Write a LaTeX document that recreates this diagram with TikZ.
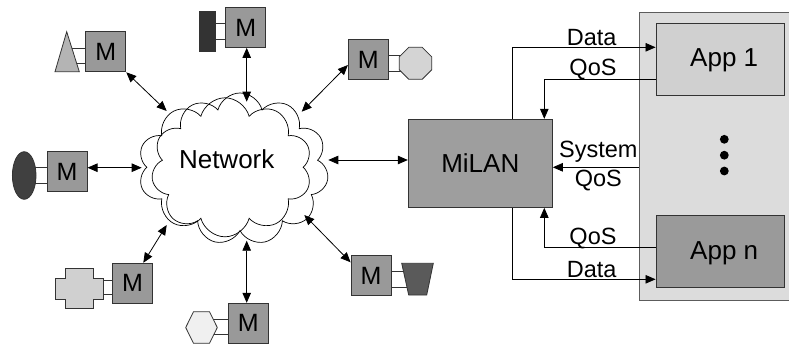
\documentclass[tikz,border=0pt]{standalone}
\usepackage{fontspec}
\setmainfont{Liberation Sans}
\usetikzlibrary{arrows.meta,shapes.symbols,shapes.geometric,calc}

\definecolor{edge}{HTML}{333333}
\definecolor{mgray}{HTML}{999999}
\definecolor{panelgray}{HTML}{DCDCDC}
\definecolor{appone}{HTML}{D0D0D0}
\definecolor{appn}{HTML}{9A9A9A}
\definecolor{trifill}{HTML}{B4B4B4}
\definecolor{barfill}{HTML}{333333}
\definecolor{octfill}{HTML}{D4D4D4}
\definecolor{ellfill}{HTML}{404040}
\definecolor{crossfill}{HTML}{D0D0D0}
\definecolor{hexfill}{HTML}{F0F0F0}
\definecolor{trapfill}{HTML}{5A5A5A}

\tikzset{
  mbox/.style={draw=edge, line width=1pt, fill=mgray, minimum width=40pt,
    minimum height=40pt, inner sep=0pt, font=\fontsize{25}{28}\selectfont},
  bigbox/.style={draw=edge, line width=1pt, inner sep=0pt},
  bigtext/.style={inner sep=0pt, font=\fontsize{26}{30}\selectfont},
  lbl/.style={anchor=base, inner sep=0pt, font=\fontsize{23.5}{26}\selectfont},
  link/.style={draw=edge, line width=0.7pt},
  dev/.style={draw=edge, line width=0.8pt},
  tip/.tip={Triangle[length=10pt,width=8.5pt]},
  conn/.style={line width=0.8pt, tip-tip},
  flow/.style={line width=0.8pt, -tip},
  netcloud/.style={cloud, cloud ignores aspect, draw=black,
    line width=0.7pt, inner sep=0pt},
}

\begin{document}
\begin{tikzpicture}[x=1pt,y=-1pt]
\useasboundingbox (0,0) rectangle (789,346);

% ---------- network cloud ----------
\node[netcloud, cloud puffs=10, minimum width=174pt, minimum height=139pt] (cloudA) at (225,167.3) {};
\node[netcloud, cloud puffs=11, minimum width=177pt, minimum height=152pt] (cloudB) at (240,169) {};
\node[bigtext, anchor=base] (nettext) at (226.7,168.3) {Network};

% ---------- monitor boxes ----------
\node[mbox] (m1) at (105.8,51.8) {M};
\node[mbox] (m2) at (245.9,27.4) {M};
\node[mbox] (m3) at (368.4,59.5) {M};
\node[mbox] (m4) at (67,171.6) {M};
\node[mbox] (m5) at (132.6,283.3) {M};
\node[mbox] (m6) at (248.3,323.3) {M};
\node[mbox] (m7) at (371.1,275.5) {M};

% ---------- device links (drawn first, devices cover their ends) ----------
\coordinate (l1a) at (67,48);    \coordinate (l1b) at (67,63);
\coordinate (l2a) at (207,23.5); \coordinate (l2b) at (207,39.5);
\coordinate (l3a) at (415,55);   \coordinate (l3b) at (415,71.7);
\coordinate (l4a) at (24,167.7); \coordinate (l4b) at (24,183.3);
\coordinate (l5a) at (79,280);   \coordinate (l5b) at (79,294.3);
\coordinate (l6a) at (201,319.3);\coordinate (l6b) at (201,334.3);
\coordinate (l7a) at (417,271.7);\coordinate (l7b) at (417,287.7);
\draw[link] (l1a) -- (l1a -| m1.west) (l1b) -- (l1b -| m1.west);
\draw[link] (l2a) -- (l2a -| m2.west) (l2b) -- (l2b -| m2.west);
\draw[link] (l3a) -- (l3a -| m3.east) (l3b) -- (l3b -| m3.east);
\draw[link] (l4a) -- (l4a -| m4.west) (l4b) -- (l4b -| m4.west);
\draw[link] (l5a) -- (l5a -| m5.west) (l5b) -- (l5b -| m5.west);
\draw[link] (l6a) -- (l6a -| m6.west) (l6b) -- (l6b -| m6.west);
\draw[link] (l7a) -- (l7a -| m7.east) (l7b) -- (l7b -| m7.east);

% ---------- devices ----------
\draw[dev, fill=trifill] (55,71.7) -- (66.7,31.7) -- (79.3,71.7) -- cycle;
\draw[dev, fill=barfill] (199,11.5) rectangle (215.7,51.7);
\draw[dev, fill=octfill] (408.8,47.3) -- (422.2,47.3) -- (431.7,56.8) -- (431.7,69.8)
  -- (422.2,79.3) -- (408.8,79.3) -- (399.3,69.8) -- (399.3,56.8) -- cycle;
\draw[dev, fill=ellfill] (24.2,175.5) ellipse [x radius=11.8, y radius=23.8];
\draw[dev, fill=crossfill] (65,268.3) -- (93.3,268.3) -- (93.3,278.3) -- (103.3,278.3)
  -- (103.3,299.3) -- (93.3,299.3) -- (93.3,308.3) -- (65,308.3) -- (65,299.3)
  -- (55,299.3) -- (55,278.3) -- (65,278.3) -- cycle;
\draw[dev, fill=hexfill] (185.7,327.5) -- (193.5,311.7) -- (209.5,311.7) -- (217.3,327.5)
  -- (209.5,343.3) -- (193.5,343.3) -- cycle;
\draw[dev, fill=trapfill] (401.7,263.3) -- (433.3,263.3) -- (426.7,295) -- (408.7,295) -- cycle;

% ---------- monitor <-> network ----------
\coordinate (e1) at (166.7,111);
\coordinate (e2) at (246.7,101.7);
\coordinate (e3) at (301.7,111.7);  \coordinate (a3) at (340,65);
\coordinate (e4) at (141.7,167.7);
\coordinate (e5) at (166.7,225);    \coordinate (a5) at (143.3,250);
\coordinate (e6) at (246.7,240.7);
\coordinate (e7) at (304.3,215);    \coordinate (a7) at (340,262.3);
\coordinate (e8) at (328.3,160);
\draw[conn] (m1.south east) -- (e1);
\draw[conn] (e2 |- m2.south) -- (e2);
\draw[conn] (a3 -| m3.west) -- (e3);
\draw[conn] (e4 -| m4.east) -- (e4);
\draw[conn] (a5 |- m5.north) -- (e5);
\draw[conn] (e6 |- m6.north) -- (e6);
\draw[conn] (a7 -| m7.west) -- (e7);

% ---------- MiLAN and applications ----------
\node[bigbox, fill=mgray!95!white, minimum width=144pt, minimum height=88pt,
  font=\fontsize{26}{30}\selectfont] (milan) at (480.3,163.3) {MiLAN};
\draw[conn] (e8) -- (e8 -| milan.west);

\node[draw=edge!80!white, line width=1pt, fill=panelgray, minimum width=160pt,
  minimum height=288pt, inner sep=0pt] (panel) at (719.3,156.7) {};
\node[bigbox, fill=appone, minimum width=128.3pt, minimum height=72.4pt] (app1) at (720.2,59.5) {};
\node[bigbox, fill=appn, minimum width=128.3pt, minimum height=72.2pt] (appN) at (720.2,251.4) {};
\node[bigtext, anchor=base] (app1t) at (724.2,66.5) {App 1};
\node[bigtext, anchor=base] (appNt) at (724.2,259.3) {App n};
\fill (724.3,139.3) circle [radius=4.4];
\fill (724.3,155.2) circle [radius=4.4];
\fill (724.3,171) circle [radius=4.4];

% ---------- data / QoS flows ----------
\coordinate (dtop) at (512.3,47.3);
\coordinate (qtop) at (544.3,79.3);
\coordinate (sysy) at (600,167.3);
\coordinate (qbot) at (544.3,247.3);
\coordinate (dbot) at (512.3,279.3);
\draw[flow] (dtop |- milan.north) -- (dtop) -- (dtop -| app1.west);
\draw[flow] (qtop -| app1.west) -- (qtop) -- (qtop |- milan.north);
\draw[flow] (sysy -| panel.west) -- (sysy -| milan.east);
\draw[flow] (qbot -| appN.west) -- (qbot) -- (qbot |- milan.south);
\draw[flow] (dbot |- milan.south) -- (dbot) -- (dbot -| appN.west);

\node[lbl] (ldata1) at (591.7,45) {Data};
\node[lbl] (lqos1) at (593,75.5) {QoS};
\node[lbl] (lsys) at (598.3,157) {System};
\node[lbl] (lsysq) at (598.3,186) {QoS};
\node[lbl] (lqos2) at (593,244.5) {QoS};
\node[lbl] (ldata2) at (591.7,277.5) {Data};
\end{tikzpicture}
\end{document}
